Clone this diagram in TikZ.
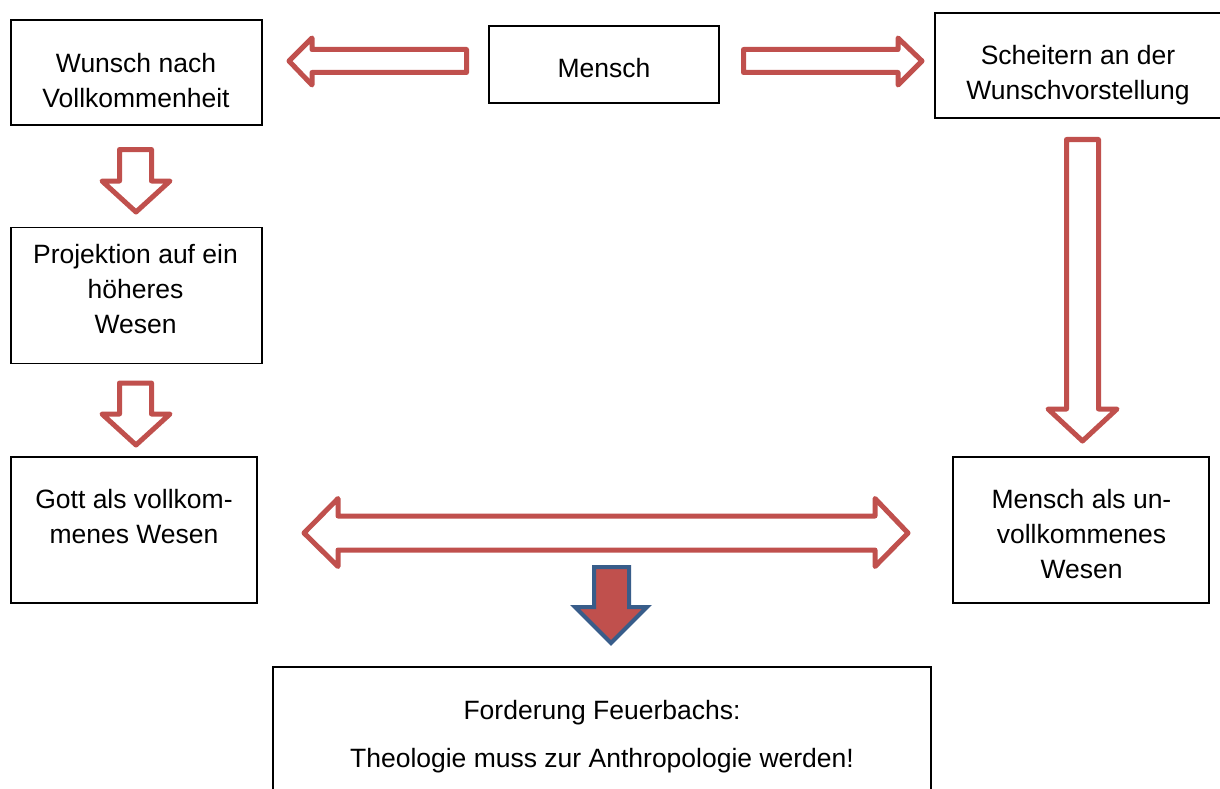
\documentclass[tikz,border=0pt]{standalone}
\usepackage{fontspec}
\setmainfont{Liberation Sans}
\definecolor{arrowred}{HTML}{C0504D}
\definecolor{arrowblue}{HTML}{385D8A}
\begin{document}
\begin{tikzpicture}[x=1pt,y=-1pt,
  box/.style={draw=black,line width=1.2pt,fill=white,inner sep=0pt,outer sep=0pt},
  txt/.style={align=center,inner sep=0pt,anchor=base,font=\fontsize{26.5}{35}\selectfont},
  blockarrow/.style={draw=arrowred,line width=5pt,line join=round,fill=white},
  mainarrow/.style={draw=arrowblue,line width=4pt,line join=miter,fill=arrowred}]
\useasboundingbox (0,0) rectangle (1220,789);
\clip (0,0) rectangle (1220,789);
\fill[white] (0,0) rectangle (1220,789);
% boxes
\node[box,minimum width=251pt,minimum height=105pt] (wunsch) at (136.5,72.5) {};
\node[box,minimum width=230pt,minimum height=77pt] (mensch) at (604,64.5) {};
\node[box,minimum width=290pt,minimum height=105pt] (scheitern) at (1080,65.5) {};
\node[box,minimum width=251pt,minimum height=136pt] (projektion) at (136.5,295.5) {};
\node[box,minimum width=246pt,minimum height=146pt] (gott) at (134,530) {};
\node[box,minimum width=256pt,minimum height=146pt] (menschun) at (1081,530) {};
\node[box,minimum width=658pt,minimum height=150pt] (forderung) at (602,742) {};
% texts (anchor at baseline of last line)
\node[txt] (t1) at (136,108) {Wunsch nach\\Vollkommenheit};
\node[txt] (t2) at (604,78) {Mensch};
\node[txt] (t3) at (1078,100) {Scheitern an der\\Wunschvorstellung};
\node[txt] (t4) at (135.5,333) {Projektion auf ein\\höheres\\Wesen};
\node[txt] (t5) at (134,543) {Gott als vollkom-\\menes Wesen};
\node[txt] (t6) at (1081.5,578) {Mensch als un-\\vollkommenes\\Wesen};
\node[txt] (t7) at (602,719) {Forderung Feuerbachs:};
\node[txt] (t8) at (602,767) {Theologie muss zur Anthropologie werden!};
% left arrow
\draw[blockarrow] (466.5,49.5) -- (312,49.5) -- (312,38) -- (289,61) -- (312,85) -- (312,72.5) -- (466.5,72.5) -- cycle;
% right arrow
\draw[blockarrow] (743.5,49.5) -- (898,49.5) -- (898,38) -- (922,61) -- (898,85) -- (898,72.5) -- (743.5,72.5) -- cycle;
% down arrow 1
\draw[blockarrow] (119.5,149.5) -- (151.5,149.5) -- (151.5,181) -- (170,181) -- (136,212) -- (102,181) -- (119.5,181) -- cycle;
% down arrow 2
\draw[blockarrow] (119.5,383) -- (151.5,383) -- (151.5,414) -- (170,414) -- (136,445) -- (102,414) -- (119.5,414) -- cycle;
% long down arrow
\draw[blockarrow] (1066.5,139.5) -- (1098.5,139.5) -- (1098.5,409) -- (1117,409) -- (1082.5,441) -- (1048,409) -- (1066.5,409) -- cycle;
% double arrow
\draw[blockarrow] (304,533) -- (338,498.5) -- (338,516) -- (875,516) -- (875,498.5) -- (908,533) -- (875,566.5) -- (875,550) -- (338,550) -- (338,566.5) -- cycle;
% main arrow
\draw[mainarrow] (594,567) -- (629,567) -- (629,607) -- (647,607) -- (611,643) -- (575,607) -- (594,607) -- cycle;
\end{tikzpicture}
\end{document}
